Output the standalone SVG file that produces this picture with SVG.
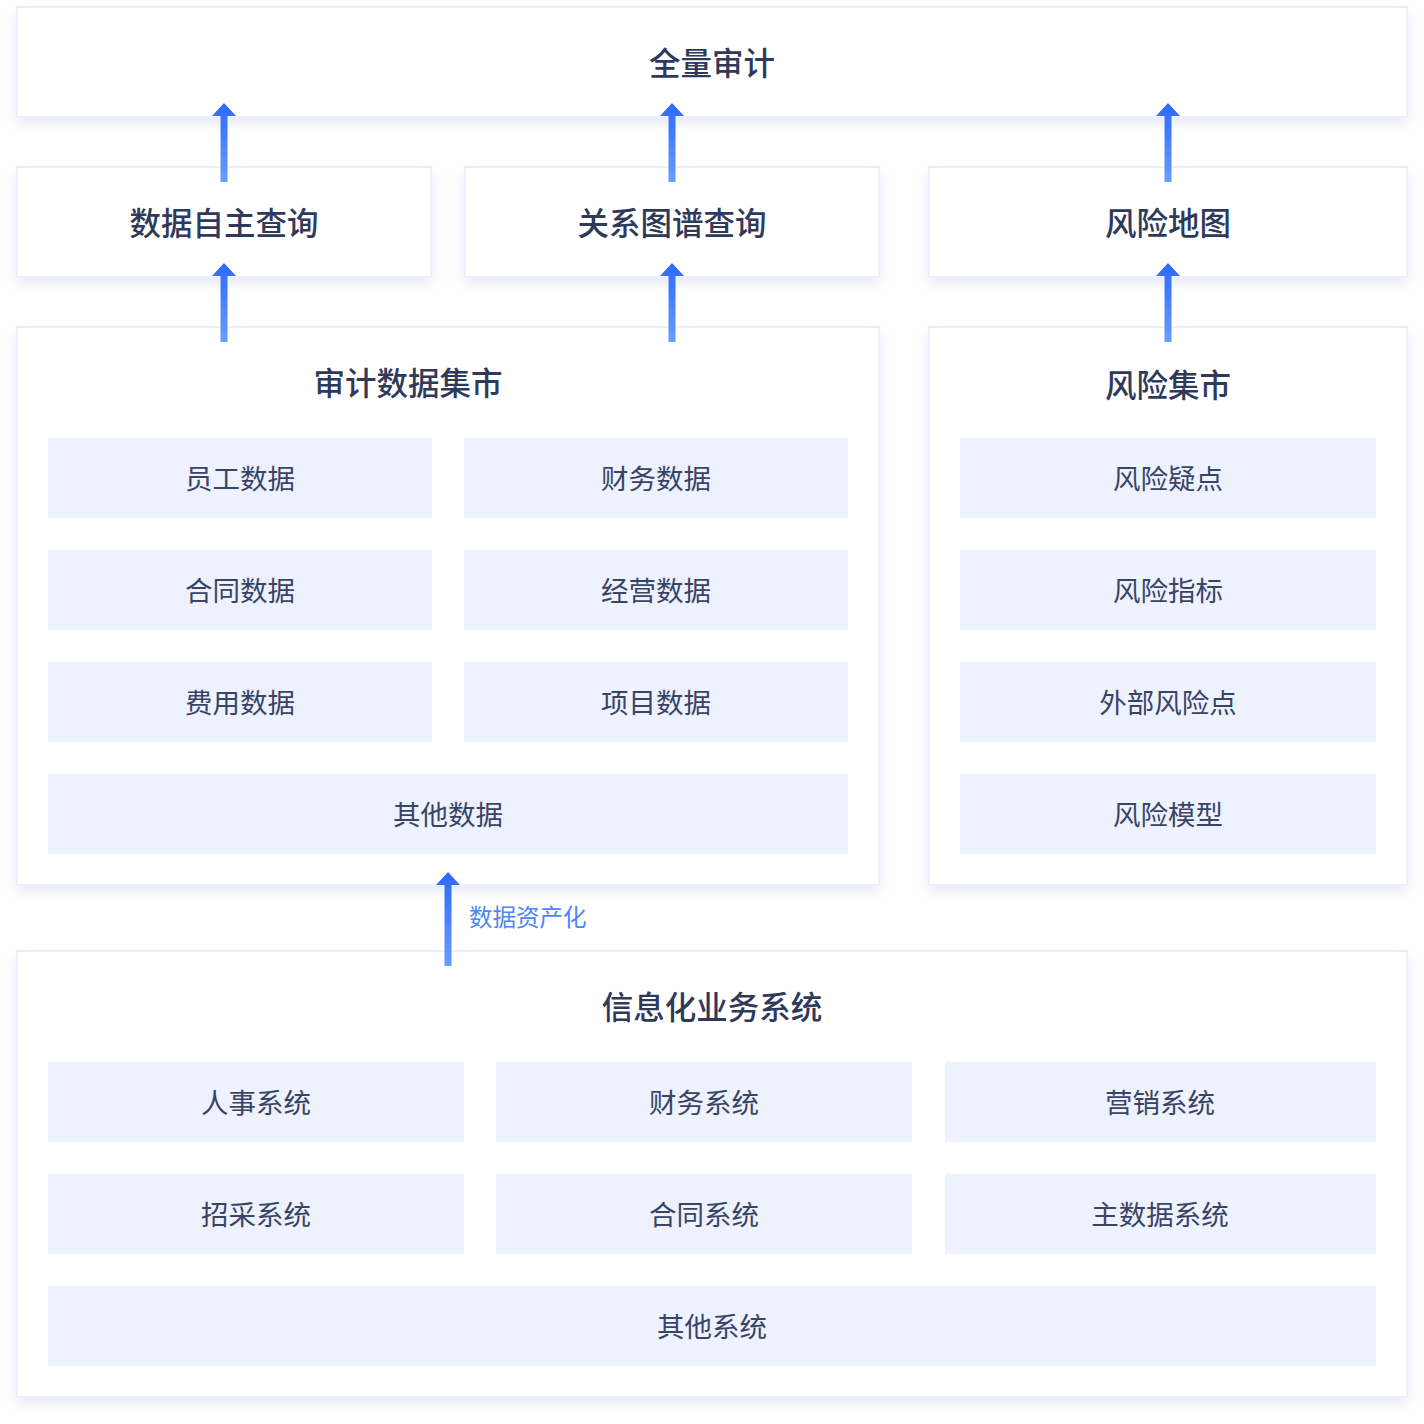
<svg xmlns="http://www.w3.org/2000/svg" width="1424" height="1424" viewBox="0 0 1424 1424">
<defs>
<filter id="sh" x="-5%" y="-10%" width="110%" height="130%">
<feDropShadow dx="0" dy="6" stdDeviation="6" flood-color="#C9D0EC" flood-opacity="0.45"/>
</filter>
<linearGradient id="ag" x1="0" y1="0" x2="0" y2="1">
<stop offset="0" stop-color="#2C68FF"/>
<stop offset="1" stop-color="#6B9CFF"/>
</linearGradient>
<style>
.box{fill:#FFFFFF;stroke:#ECEFFB;stroke-width:2;filter:url(#sh)}
.item{fill:#EEF2FE}
.t{font-family:"Noto Sans CJK SC","Noto Sans",sans-serif;fill:#323C5C;text-anchor:middle;dominant-baseline:central}
.title{font-size:31.5px;font-weight:500;fill:#2F3A5A}
.it{font-size:27.5px;font-weight:400;fill:#3A4466}
.lab{font-family:"Noto Sans CJK SC","Noto Sans",sans-serif;font-size:23.5px;fill:#4E86F5;dominant-baseline:central}
.arr{fill:url(#ag)}
</style>
</defs>
<rect width="1424" height="1424" fill="#FFFFFF"/>

<g id="node-full-audit">
<rect class="box" x="17" y="7" width="1390" height="110"/>
<text class="t title" x="712" y="61">全量审计</text>
</g>
<g id="node-self-query">
<rect class="box" x="17" y="167" width="414" height="110"/>
<text class="t title" x="224" y="221">数据自主查询</text>
</g>
<g id="node-graph-query">
<rect class="box" x="465" y="167" width="414" height="110"/>
<text class="t title" x="672" y="221">关系图谱查询</text>
</g>
<g id="node-risk-map">
<rect class="box" x="929" y="167" width="478" height="110"/>
<text class="t title" x="1168" y="221">风险地图</text>
</g>

<g id="node-audit-mart">
<rect class="box" x="17" y="327" width="862" height="558"/>
<text class="t title" x="408" y="381">审计数据集市</text>
<rect class="item" x="48" y="438" width="384" height="80"/>
<text class="t it" x="240" y="477">员工数据</text>
<rect class="item" x="464" y="438" width="384" height="80"/>
<text class="t it" x="656" y="477">财务数据</text>
<rect class="item" x="48" y="550" width="384" height="80"/>
<text class="t it" x="240" y="589">合同数据</text>
<rect class="item" x="464" y="550" width="384" height="80"/>
<text class="t it" x="656" y="589">经营数据</text>
<rect class="item" x="48" y="662" width="384" height="80"/>
<text class="t it" x="240" y="701">费用数据</text>
<rect class="item" x="464" y="662" width="384" height="80"/>
<text class="t it" x="656" y="701">项目数据</text>
<rect class="item" x="48" y="774" width="800" height="80"/>
<text class="t it" x="448" y="813">其他数据</text>
</g>

<g id="node-risk-mart">
<rect class="box" x="929" y="327" width="478" height="558"/>
<text class="t title" x="1168" y="383">风险集市</text>
<rect class="item" x="960" y="438" width="416" height="80"/>
<text class="t it" x="1168" y="477">风险疑点</text>
<rect class="item" x="960" y="550" width="416" height="80"/>
<text class="t it" x="1168" y="589">风险指标</text>
<rect class="item" x="960" y="662" width="416" height="80"/>
<text class="t it" x="1168" y="701">外部风险点</text>
<rect class="item" x="960" y="774" width="416" height="80"/>
<text class="t it" x="1168" y="813">风险模型</text>
</g>

<g id="node-biz-systems">
<rect class="box" x="17" y="951" width="1390" height="446"/>
<text class="t title" x="712" y="1005">信息化业务系统</text>
<rect class="item" x="48" y="1062" width="416" height="80"/>
<text class="t it" x="256" y="1101">人事系统</text>
<rect class="item" x="496" y="1062" width="416" height="80"/>
<text class="t it" x="704" y="1101">财务系统</text>
<rect class="item" x="945" y="1062" width="431" height="80"/>
<text class="t it" x="1160" y="1101">营销系统</text>
<rect class="item" x="48" y="1174" width="416" height="80"/>
<text class="t it" x="256" y="1213">招采系统</text>
<rect class="item" x="496" y="1174" width="416" height="80"/>
<text class="t it" x="704" y="1213">合同系统</text>
<rect class="item" x="945" y="1174" width="431" height="80"/>
<text class="t it" x="1160" y="1213">主数据系统</text>
<rect class="item" x="48" y="1286" width="1328" height="80"/>
<text class="t it" x="712" y="1325">其他系统</text>
</g>

<g id="connectors">
<path class="arr" d="M220.5 182 V116 H212 L224 103 L236 116 H227.5 V182 Z"/>
<path class="arr" d="M668.5 182 V116 H660 L672 103 L684 116 H675.5 V182 Z"/>
<path class="arr" d="M1164.5 182 V116 H1156 L1168 103 L1180 116 H1171.5 V182 Z"/>
<path class="arr" d="M220.5 342 V276 H212 L224 263 L236 276 H227.5 V342 Z"/>
<path class="arr" d="M668.5 342 V276 H660 L672 263 L684 276 H675.5 V342 Z"/>
<path class="arr" d="M1164.5 342 V276 H1156 L1168 263 L1180 276 H1171.5 V342 Z"/>
<path class="arr" d="M444.5 966 V885 H436 L448 872 L460 885 H451.5 V966 Z"/>
<text class="lab" x="469" y="916">数据资产化</text>
</g>
</svg>
